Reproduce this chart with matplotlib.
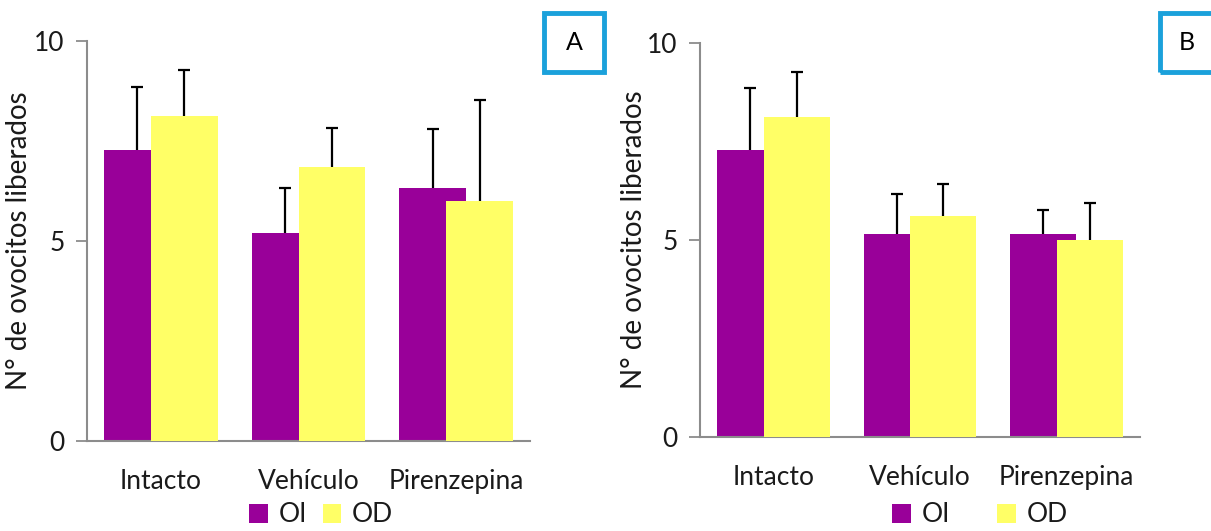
import matplotlib
matplotlib.use("Agg")
import matplotlib.pyplot as plt
import numpy as np
from matplotlib.patches import Rectangle, Patch

plt.rcParams['font.family'] = ['Lato', 'DejaVu Sans']

categories = ["Intacto", "Vehículo", "Pirenzepina"]
series = ["OI", "OD"]
a_oi = [7.28, 5.20, 6.33]
a_oi_err = [1.57, 1.12, 1.47]
a_od = [8.12, 6.85, 6.00]
a_od_err = [1.15, 0.97, 2.52]
b_oi = [7.28, 5.15, 5.15]
b_oi_err = [1.58, 1.02, 0.62]
b_od = [8.12, 5.60, 5.00]
b_od_err = [1.14, 0.82, 0.95]
yticks = [0, 5, 10]

PURPLE = "#990099"
YELLOW = "#FFFF66"
TEXT = "#1a1a1a"
AXC = "#8c8c8c"
BLUE = "#1BA1DB"

fig = plt.figure(figsize=(12.11, 5.31), dpi=100)

def upper_err(ax, x, y, err):
    x = np.asarray(x); y = np.asarray(y); err = np.asarray(err)
    ax.vlines(x, y, y + err, colors='black', linewidth=1.6, zorder=1)
    ax.hlines(y + err, x - 0.04, x + 0.04, colors='black', linewidth=1.6, zorder=1)

def panel(rect, oi, oi_err, od, od_err, label, box_rect, leg_center, colsp, ylab_x):
    ax = fig.add_axes(rect)
    x = np.arange(len(categories))
    w = 0.452
    off = 0.159
    ax.bar(x - off, oi, w, color=PURPLE, zorder=2)
    ax.bar(x + off, od, w, color=YELLOW, zorder=3)
    upper_err(ax, x - off, oi, oi_err)
    upper_err(ax, x + off, od, od_err)
    ax.set_xlim(-0.5, len(categories) - 0.5)
    ax.set_ylim(0, 10)
    ax.set_yticks(yticks)
    ax.set_yticklabels([str(t) for t in yticks], fontsize=19, color=TEXT)
    ax.set_xticks(x)
    ax.set_xticklabels(categories, fontsize=19, color=TEXT)
    ax.tick_params(axis='x', length=0, pad=20)
    ax.tick_params(axis='y', length=8, width=1.3, color=AXC, pad=8)
    for s in ['top', 'right']:
        ax.spines[s].set_visible(False)
    for s in ['left', 'bottom']:
        ax.spines[s].set_color(AXC)
        ax.spines[s].set_linewidth(1.5)
    ax.set_ylabel("N° de ovocitos liberados", fontsize=20, color=TEXT)
    ax.yaxis.set_label_coords(ylab_x, 0.5)
    fig.patches.append(Rectangle((box_rect[0], box_rect[1]), box_rect[2], box_rect[3],
                                 transform=fig.transFigure, fill=False,
                                 edgecolor=BLUE, linewidth=3.5))
    tx = box_rect[0] + box_rect[2] / 2 if label == "A" else box_rect[0] + 27/1211
    fig.text(tx, box_rect[1] + box_rect[3] / 2, label, ha='center', va='center',
             fontsize=18, color='black')
    handles = [Patch(facecolor=PURPLE), Patch(facecolor=YELLOW)]
    fig.legend(handles, series, loc='center', bbox_to_anchor=leg_center, ncol=2,
               frameon=False, fontsize=19, handlelength=0.7, handleheight=0.7,
               handletextpad=0.4, columnspacing=colsp, labelcolor=TEXT,
               borderpad=0, borderaxespad=0)
    return ax

panel([87/1211, 1 - 441/531, (530-87)/1211, (441-41)/531], a_oi, a_oi_err, a_od, a_od_err,
      "A", (544/1211, 1 - 72/531, 60/1211, 59/531), (321/1211, 1 - 515/531), 0.6, -0.125)
panel([700/1211, 1 - 437/531, (1140-700)/1211, (437-43)/531], b_oi, b_oi_err, b_od, b_od_err,
      "B", (1160/1211, 1 - 72/531, 80/1211, 59/531), (980/1211, 1 - 515/531), 1.8, -0.12)

fig.savefig("out.png", dpi=100)
